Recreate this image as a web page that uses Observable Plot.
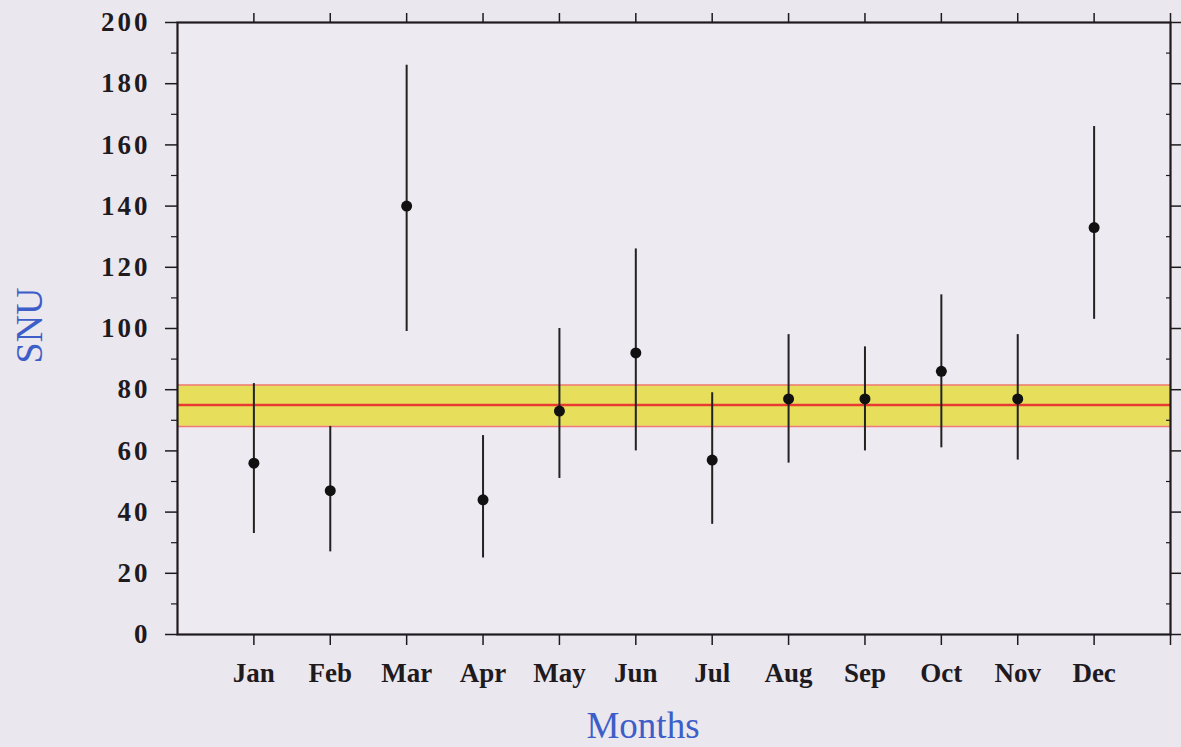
<!DOCTYPE html>
<html>
<head>
<meta charset="utf-8">
<script src="https://cdn.jsdelivr.net/npm/d3@7"></script>
<script src="https://cdn.jsdelivr.net/npm/@observablehq/plot@0.6"></script>
<style>
  html, body { margin: 0; padding: 0; background: #ebe7ee; }
  #chart { width: 1181px; height: 747px; }
</style>
</head>
<body>
<div id="chart"></div>
<script>
// Data
const months = ["Jan","Feb","Mar","Apr","May","Jun","Jul","Aug","Sep","Oct","Nov","Dec"];
const snu    = [56, 47, 140, 44, 73, 92, 57, 77, 77, 86, 77, 133];
const snuLow = [33, 27, 99, 25, 51, 60, 36, 56, 60, 61, 57, 103];
const snuHigh= [82, 68, 186, 65, 100, 126, 79, 98, 94, 111, 98, 166];
const meanValue = [75];
const bandLow = [68];
const bandHigh = [81.5];
const yTicks = [0, 20, 40, 60, 80, 100, 120, 140, 160, 180, 200];
const yMinorTicks = [10, 30, 50, 70, 90, 110, 130, 150, 170, 190];
const xDomain = [0, 13];

const monthIdx = months.map((_, i) => i + 1);
const frameTicks = [...monthIdx, xDomain[1]];
const data = months.map((m, i) => ({m: i + 1, v: snu[i], lo: snuLow[i], hi: snuHigh[i]}));
const band = [{low: bandLow[0], high: bandHigh[0]}];

const blue = "#3d5ec8";
const ink = "#1e1a1e";

const chart = Plot.plot({
  width: 1181,
  height: 747,
  marginLeft: 177,
  marginRight: 11,
  marginTop: 22,
  marginBottom: 113,
  style: {fontFamily: "'Liberation Serif', 'Times New Roman', serif", fontSize: "26px", fontWeight: "bold", background: "#ebe7ee", color: ink},
  x: {domain: xDomain, axis: null},
  y: {domain: [0, 200], axis: null},
  marks: [
    Plot.frame({fill: "#edeaf1"}),
    Plot.rect(band, {y1: "low", y2: "high", fill: "#e7df5c"}),
    Plot.ruleY(bandLow, {stroke: "#f07878", strokeWidth: 1.5}),
    Plot.ruleY(bandHigh, {stroke: "#f07878", strokeWidth: 1.5}),
    Plot.ruleY(meanValue, {stroke: "#e83a30", strokeWidth: 2.5}),
    Plot.ruleX(data, {x: "m", y1: "lo", y2: "hi", stroke: "#222", strokeWidth: 2}),
    Plot.dot(data, {x: "m", y: "v", r: 5.5, fill: "#111", stroke: "none"}),
    // bottom axis
    Plot.axisX({anchor: "bottom", label: null, ticks: monthIdx, tickFormat: (d) => months[d - 1], tickSize: 11, tickPadding: 17, fontSize: 27, stroke: ink, strokeWidth: 1.5, fill: ink}),
    Plot.axisX({anchor: "bottom", label: null, ticks: [xDomain[1]], tickFormat: () => "", tickSize: 11, stroke: ink, strokeWidth: 1.5}),
    // top axis
    Plot.axisX({anchor: "top", label: null, ticks: frameTicks, tickFormat: () => "", tickSize: 10, stroke: ink, strokeWidth: 1.5}),
    // left axis
    Plot.axisY({anchor: "left", label: null, ticks: yTicks, tickSize: 12, tickPadding: 15, fontSize: 27, stroke: ink, strokeWidth: 1.5, fill: ink, tickFormat: (d) => String(d)}),
    Plot.axisY({anchor: "left", label: null, ticks: yMinorTicks, tickSize: 6, tickFormat: () => "", stroke: ink, strokeWidth: 1.2}),
    // right axis
    Plot.axisY({anchor: "right", label: null, ticks: yTicks, tickSize: 10, tickFormat: () => "", stroke: ink, strokeWidth: 1.5}),
    Plot.axisY({anchor: "right", label: null, ticks: yMinorTicks, tickSize: -5, tickFormat: () => "", stroke: ink, strokeWidth: 1.2}),
    // frame lines
    Plot.frame({stroke: ink, strokeWidth: 2.2}),
    // axis titles
    Plot.text(["Months"], {frameAnchor: "bottom", dx: -31, dy: 103, fontSize: 37, fontWeight: "normal", fill: blue}),
    Plot.text(["SNU"], {frameAnchor: "left", dx: -148, dy: 35, rotate: -90, fontSize: 38, fontWeight: "normal", fill: blue})
  ]
});

document.getElementById("chart").appendChild(chart);
d3.select(chart).selectAll('g[aria-label="y-axis tick label"] text').attr("letter-spacing", "3px");
</script>
</body>
</html>
